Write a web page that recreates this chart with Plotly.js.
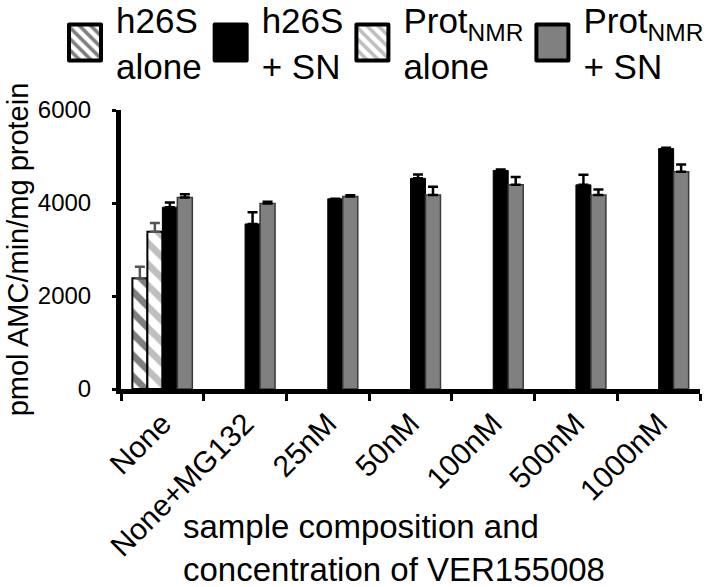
<!DOCTYPE html>
<html>
<head>
<meta charset="utf-8">
<script src="https://cdn.plot.ly/plotly-3.0.1.min.js"></script>
<style>html,body{margin:0;padding:0;background:#fff;}</style>
</head>
<body>
<div id="chart" style="width:714px;height:587px;"></div>
<script>
const categories = ['None', 'None+MG132', '25nM', '50nM', '100nM', '500nM', '1000nM'];
const seriesNames = ['h26S<br>alone', 'h26S<br>+ SN', 'Prot<sub>NMR</sub><br>alone', 'Prot<sub>NMR</sub><br>+ SN'];
const h26sAlone    = [2380, null, null, null, null, null, null];
const h26sAloneErr = [250, null, null, null, null, null, null];
const protAlone    = [3380, null, null, null, null, null, null];
const protAloneErr = [190, null, null, null, null, null, null];
const h26sSN       = [3910, 3550, 4090, 4530, 4700, 4390, 5170];
const h26sSNErr    = [100, 250, 0, 85, 20, 220, 20];
const protSN       = [4120, 3990, 4140, 4170, 4390, 4170, 4670];
const protSNErr    = [70, 35, 25, 180, 170, 120, 160];
const yTicks = [0, 2000, 4000, 6000];

const FONT = 'Liberation Sans, Arial, sans-serif';
const zeros = categories.map(() => 0);

function errBar(arr, color) {
  return {type: 'data', symmetric: false, array: arr, arrayminus: zeros,
          color: color, thickness: 2.5, width: 5, visible: true};
}

const traces = [
  {type: 'bar', name: seriesNames[0], x: categories, y: h26sAlone,
   marker: {color: 'white', line: {color: 'black', width: 2},
            pattern: {shape: '\\', fgcolor: 'black', bgcolor: 'white', size: 15, solidity: 0.45, fillmode: 'overlay'}},
   error_y: errBar(h26sAloneErr, '#555')},
  {type: 'bar', name: seriesNames[1], x: categories, y: h26sSN,
   marker: {color: 'black', line: {color: 'black', width: 1}},
   error_y: errBar(h26sSNErr, 'black')},
  {type: 'bar', name: seriesNames[2], x: categories, y: protAlone,
   marker: {color: 'white', line: {color: 'black', width: 2},
            pattern: {shape: '\\', fgcolor: '#808080', bgcolor: 'white', size: 15, solidity: 0.45, fillmode: 'overlay'}},
   error_y: errBar(protAloneErr, '#555')},
  {type: 'bar', name: seriesNames[3], x: categories, y: protSN,
   marker: {color: '#808080', line: {color: '#3a3a3a', width: 1.5}},
   error_y: errBar(protSNErr, 'black')}
];
// group order: h26S alone, Prot alone, h26S+SN, Prot+SN ; legend order follows the reference
const plotTraces = [traces[0], traces[2], traces[1], traces[3]];
plotTraces.forEach((t, i) => { t.legendrank = [1, 3, 2, 4][i]; });

const layout = {
  width: 714, height: 587,
  margin: {l: 121, r: 14, t: 110, b: 198, pad: 0, autoexpand: false},
  paper_bgcolor: 'white', plot_bgcolor: 'white',
  font: {family: FONT, color: 'black'},
  barmode: 'group', bargap: 0.275, bargroupgap: 0,
  showlegend: true,
  legend: {orientation: 'h', x: -0.1036, xanchor: 'left', y: 1.428, yanchor: 'top',
           font: {family: FONT, size: 35, color: 'black'}, traceorder: 'normal',
           itemwidth: 45,
           bgcolor: 'rgba(0,0,0,0)', itemclick: false, valign: 'middle'},
  xaxis: {type: 'category', range: [-0.5, 6.5], showline: true, linecolor: 'black', linewidth: 5,
          ticks: 'outside', tickson: 'boundaries', ticklen: 7, tickwidth: 3, tickcolor: 'black',
          tickangle: -45, tickfont: {family: FONT, size: 30, color: 'black'},
          showgrid: false, zeroline: false, fixedrange: true},
  yaxis: {range: [0, 6000], tickvals: yTicks, ticktext: yTicks.map(String),
          showline: true, linecolor: 'black', linewidth: 5,
          ticks: 'outside', ticklen: 4, tickwidth: 3, tickcolor: 'black',
          tickfont: {family: FONT, size: 24, color: 'black'}, ticklabelstandoff: 16,
          showgrid: false, zeroline: false, fixedrange: true,
          title: {text: 'pmol AMC/min/mg protein', font: {family: FONT, size: 29, color: 'black'}, standoff: 2}},
  annotations: [{
    xref: 'paper', yref: 'paper', x: 0.1036, y: -0.42, xanchor: 'left', yanchor: 'top',
    align: 'left', showarrow: false,
    text: 'sample composition and<br>concentration of VER155008',
    font: {family: FONT, size: 33, color: 'black'}
  }]
};

function fixLegend() {
  document.querySelectorAll('.legend .legendpoints path').forEach(p => {
    p.setAttribute('d', 'M16,18H-16V-18H16Z');
    p.setAttribute('transform', 'translate(24,0)');
    p.style.strokeWidth = '4px';
    p.style.strokeLinejoin = 'round';
    p.style.stroke = 'black';
  });
}

Plotly.newPlot('chart', plotTraces, layout, {displayModeBar: false, staticPlot: true}).then(gd => {
  fixLegend();
  gd.on('plotly_afterplot', fixLegend);
  setTimeout(fixLegend, 50);
});
</script>
</body>
</html>
